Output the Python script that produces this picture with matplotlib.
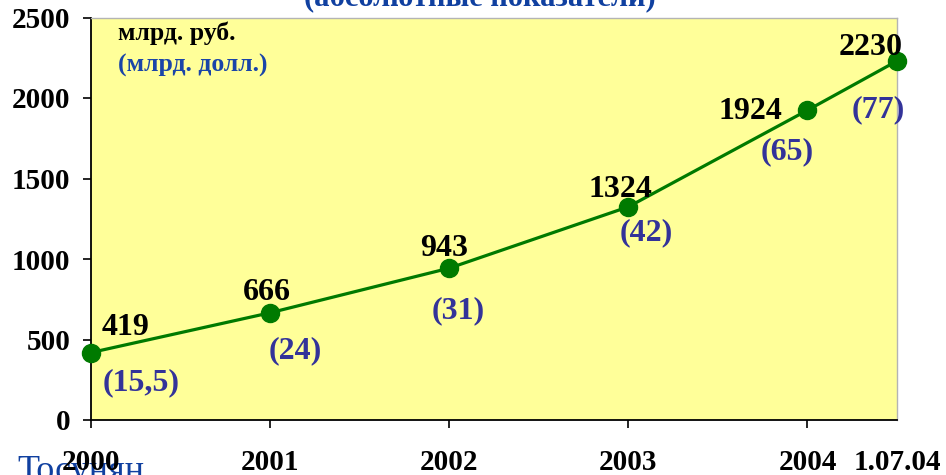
import matplotlib
matplotlib.use('Agg')
import matplotlib.pyplot as plt

# данные: объем (млрд. руб.) и в скобках млрд. долл.
years = [0, 1, 2, 3, 4, 4.5]
year_labels = ['2000', '2001', '2002', '2003', '2004', '1.07.04']
rub = [419, 666, 943, 1324, 1924, 2230]
usd = ['(15,5)', '(24)', '(31)', '(42)', '(65)', '(77)']

# смещения подписей от точек, в пикселях (dx вправо, dy вниз)
rub_off = [(35, -25), (-3, -20), (-5, -20), (-8, -17), (-57, 1), (-26, -13)]
usd_off = [(50, 30), (25, 38), (9, 43), (18, 26), (-20, 41), (-19, 49)]

plt.rcParams['font.family'] = ['Liberation Serif', 'DejaVu Serif']
plt.rcParams['font.weight'] = 'bold'

DPI = 100
fig = plt.figure(figsize=(9.46, 4.75), dpi=DPI)
W, H = 946, 475
ax = fig.add_axes([91 / W, 1 - 420 / H, (897 - 91) / W, (420 - 17.5) / H])
ax.set_facecolor('#ffff99')

ax.plot(years, rub, color='#007a00', lw=2.3, marker='o', ms=13,
        clip_on=False, zorder=3)

px = 72.0 / DPI
for x, v, u, ro, uo in zip(years, rub, usd, rub_off, usd_off):
    ax.annotate(str(v), (x, v), xytext=(ro[0] * px, -ro[1] * px),
                textcoords='offset points', ha='center', va='center',
                fontsize=23, fontweight='bold', color='black',
                annotation_clip=False, zorder=4)
    ax.annotate(u, (x, v), xytext=(uo[0] * px, -uo[1] * px),
                textcoords='offset points', ha='center', va='center',
                fontsize=23, fontweight='bold', color='#333399',
                annotation_clip=False, zorder=4)

ax.set_xlim(0, 4.5)
ax.set_ylim(0, 2500)
ax.set_yticks([0, 500, 1000, 1500, 2000, 2500])
ax.set_xticks(years)
ax.set_xticklabels(year_labels)
ax.xaxis.get_major_ticks()[-1].tick1line.set_visible(False)

ax.tick_params(axis='y', direction='out', length=6, width=1.2, pad=9,
               labelsize=21)
ax.tick_params(axis='x', direction='out', length=6, width=1.2, pad=15,
               labelsize=21)
for lab in ax.get_xticklabels() + ax.get_yticklabels():
    lab.set_fontweight('bold')

for s in ['left', 'bottom']:
    ax.spines[s].set_color('black')
    ax.spines[s].set_linewidth(1.3)
for s in ['top', 'right']:
    ax.spines[s].set_color('#b4b4b4')
    ax.spines[s].set_linewidth(1.0)

fig.text(118 / W, 1 - 33 / H, 'млрд. руб.', ha='left', va='center',
         fontsize=18.5, fontweight='bold', color='black')
fig.text(118 / W, 1 - 65 / H, '(млрд. долл.)', ha='left', va='center',
         fontsize=18.5, fontweight='bold', color='#1a45a8')

fig.text(480 / W, 1 - 5 / H, '(абсолютные показатели)', ha='center',
         va='baseline', fontsize=22, fontweight='bold', color='#1040a0')
fig.text(17 / W, 1 - 455 / H, 'Тосунян', ha='left', va='top',
         fontsize=26, fontweight='normal', color='#1040a0', zorder=-1)

fig.savefig('out.png', dpi=DPI)
